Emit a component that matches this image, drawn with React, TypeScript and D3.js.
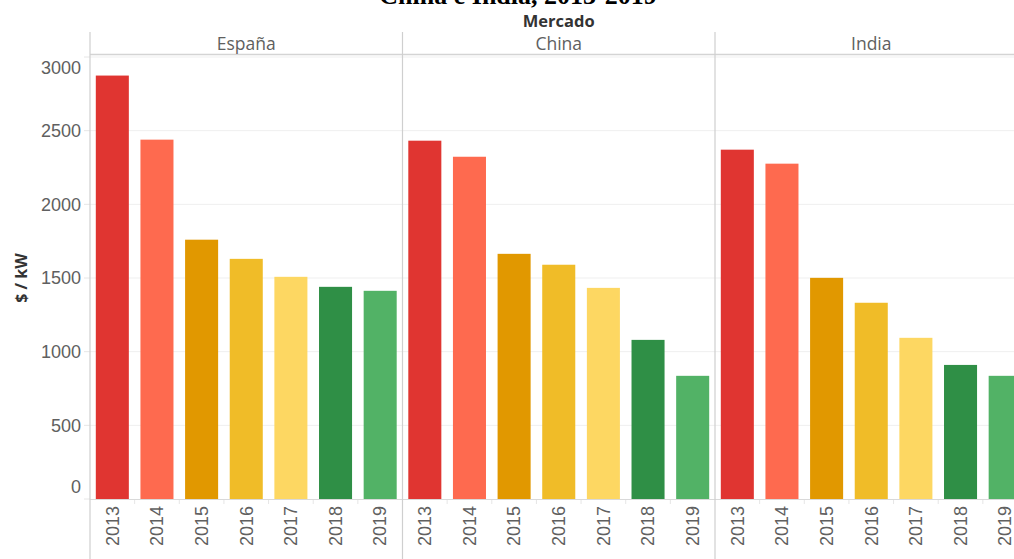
import React from "react";
import * as d3 from "d3";

const markets = ["España", "China", "India"];
const years = ["2013", "2014", "2015", "2016", "2017", "2018", "2019"];
const espanaValues = [2874, 2439, 1760, 1630, 1508, 1440, 1413];
const chinaValues = [2432, 2323, 1664, 1590, 1433, 1080, 836];
const indiaValues = [2371, 2276, 1501, 1332, 1094, 910, 836];
const yearColors = ["#E03531", "#FE6A4F", "#E19800", "#F0BC28", "#FDD762", "#2F8F46", "#52B266"];
const yTicks = [0, 500, 1000, 1500, 2000, 2500, 3000];
const titleText = "China e India, 2013-2019";
const headerText = "Mercado";
const yAxisTitle = "$ / kW";

const seriesByMarket = [espanaValues, chinaValues, indiaValues];

export default function App() {
  const W = 1014;
  const H = 559;
  const left = 90;
  const panelW = 312.5;
  const y = d3.scaleLinear().domain([0, 3000]).range([499, 57]);
  const x = d3.scaleBand<string>().domain(years).range([0, panelW]).paddingInner(0.26).paddingOuter(0.13);
  const font = "'Liberation Sans', Arial, sans-serif";
  const gray = "#606060";
  const fullRight = left + panelW * markets.length;

  return (
    <svg width={W} height={H} style={{ position: "absolute", left: 0, top: 0, display: "block" }}>
      <rect width={W} height={H} fill="#fff" />
      <text x={518} y={4} textAnchor="middle" fontFamily="'Liberation Serif', 'Times New Roman', serif" fontWeight="bold" fontSize={26} fill="#000">
        {titleText}
      </text>
      <text x={left + (panelW * markets.length) / 2} y={27} textAnchor="middle" fontFamily="'Open Sans', sans-serif" fontWeight="bold" fontSize={16.5} fill="#333">
        {headerText}
      </text>
      {/* gridlines */}
      {yTicks.filter((t) => t > 0).map((t) => (
        <line key={"g" + t} x1={left} x2={fullRight} y1={y(t)} y2={y(t)} stroke="#efefef" strokeWidth={1} />
      ))}
      {/* header bottom line */}
      <line x1={left} x2={fullRight} y1={54.5} y2={54.5} stroke="#d4d4d4" strokeWidth={1.5} />
      {/* y ticks */}
      {yTicks.map((t) => {
        const ty = y(t);
        let dy = "0.35em";
        if (t === 0) dy = "-0.32em";
        if (t === 3000) dy = "0.95em";
        return (
          <g key={"t" + t}>
            <line x1={84} x2={left} y1={y(t)} y2={y(t)} stroke="#e6e6e6" />
            <text x={81} y={ty} dy={dy} textAnchor="end" fontFamily={font} fontSize={18} fill={gray}>
              {t}
            </text>
          </g>
        );
      })}
      <text transform={`translate(27,278) rotate(-90)`} textAnchor="middle" fontFamily="'Open Sans', sans-serif" fontWeight="bold" fontSize={16} fill="#333">
        {yAxisTitle}
      </text>
      {markets.map((m, mi) => {
        const x0 = left + mi * panelW;
        const vals = seriesByMarket[mi];
        return (
          <g key={m} transform={`translate(${x0},0)`}>
            <text x={panelW / 2} y={50} textAnchor="middle" fontFamily="'Open Sans', sans-serif" fontSize={17.5} fill={gray}>
              {m}
            </text>
            {years.map((yr, i) => (
              <rect key={yr} x={x(yr)} width={x.bandwidth()} y={y(vals[i])} height={y(0) - y(vals[i])} fill={yearColors[i]} />
            ))}
            {years.slice(1).map((yr) => {
              const bx = (x(yr) as number) - (x.step() * x.paddingInner()) / 2;
              return <line key={"bt" + yr} x1={bx} x2={bx} y1={499} y2={504} stroke="#e6e6e6" />;
            })}
            {years.map((yr) => {
              const cx = (x(yr) as number) + x.bandwidth() / 2;
              return (
                <text key={"l" + yr} transform={`translate(${cx},506) rotate(-90)`} textAnchor="end" dy="0.35em" fontFamily={font} fontSize={18} fill={gray}>
                  {yr}
                </text>
              );
            })}
          </g>
        );
      })}
      <line x1={left} x2={fullRight} y1={499.5} y2={499.5} stroke="#d9d9d9" />
      {markets.map((m, mi) => (
        <line key={"v" + m} x1={left + mi * panelW} x2={left + mi * panelW} y1={32} y2={H} stroke="#cfcfcf" strokeWidth={1.2} />
      ))}
    </svg>
  );
}
